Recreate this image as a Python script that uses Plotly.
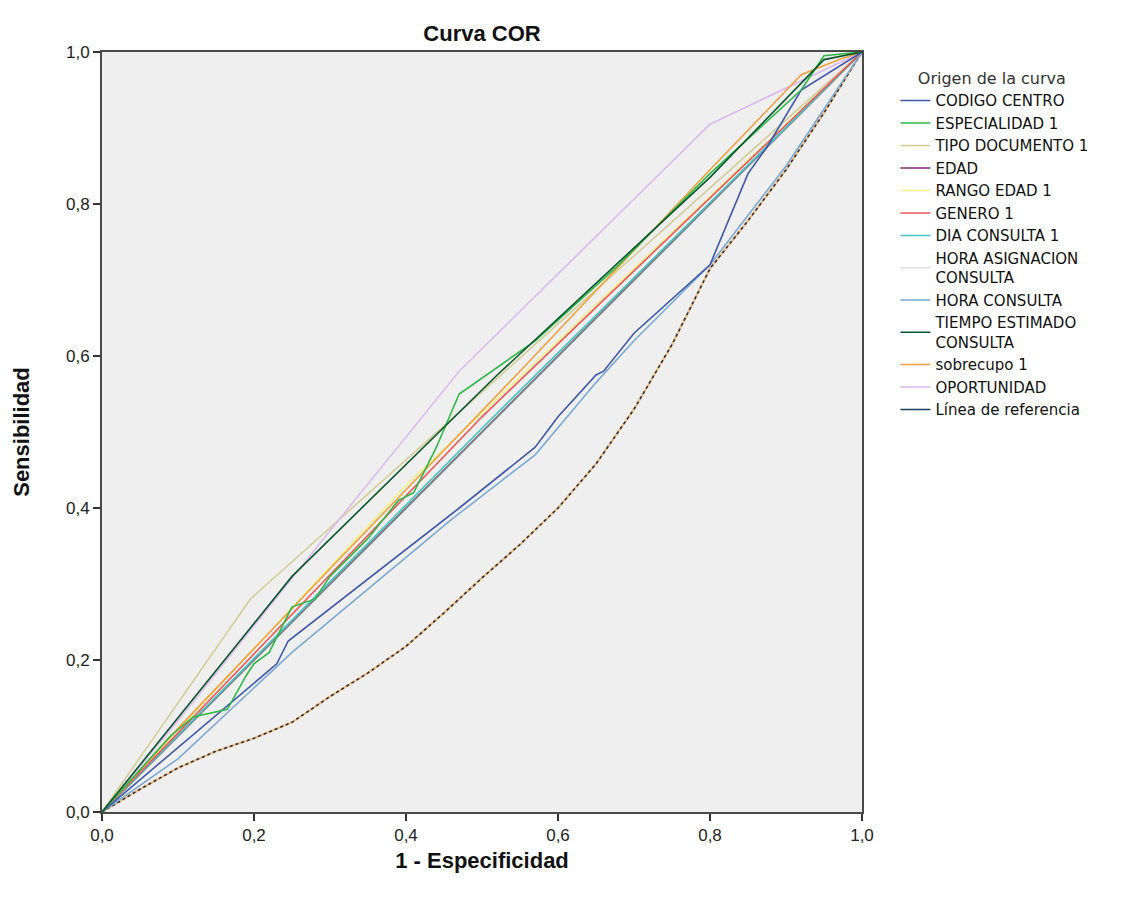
import plotly.graph_objects as go

# ---------------- data ----------------
codigo_x = [0, 0.10, 0.23, 0.245, 0.47, 0.57, 0.60, 0.65, 0.66, 0.70, 0.80, 0.85, 0.875, 0.92, 1.0]
codigo_y = [0, 0.085, 0.195, 0.225, 0.40, 0.48, 0.52, 0.575, 0.58, 0.63, 0.72, 0.84, 0.875, 0.95, 1.0]

espec_x = [0, 0.09, 0.12, 0.165, 0.19, 0.20, 0.22, 0.25, 0.28, 0.30, 0.35, 0.39, 0.41, 0.44, 0.47, 0.52, 0.57, 0.68, 0.80, 0.92, 0.95, 1.0]
espec_y = [0, 0.10, 0.125, 0.135, 0.18, 0.195, 0.21, 0.27, 0.28, 0.31, 0.36, 0.41, 0.42, 0.48, 0.55, 0.585, 0.62, 0.72, 0.84, 0.95, 0.995, 1.0]

tipo_x = [0, 0.195, 1.0]
tipo_y = [0, 0.28, 1.0]

edad_x = [0, 0.05, 0.10, 0.15, 0.20, 0.25, 0.30, 0.35, 0.40, 0.45, 0.50, 0.55, 0.60, 0.65, 0.70, 0.75, 0.80, 0.85, 0.90, 0.95, 1.0]
edad_y = [0, 0.03, 0.058, 0.08, 0.097, 0.118, 0.152, 0.183, 0.218, 0.262, 0.308, 0.352, 0.400, 0.458, 0.530, 0.615, 0.715, 0.778, 0.845, 0.92, 1.0]

rango_x = [0, 0.40, 1.0]
rango_y = [0, 0.43, 1.0]

genero_x = [0, 0.50, 1.0]
genero_y = [0, 0.52, 1.0]

dia_x = [0, 0.50, 1.0]
dia_y = [0, 0.505, 1.0]

hora_asig_x = edad_x
hora_asig_y = edad_y

hora_cons_x = [0, 0.10, 0.25, 0.46, 0.57, 0.65, 0.70, 0.80, 0.90, 1.0]
hora_cons_y = [0, 0.07, 0.21, 0.385, 0.47, 0.565, 0.62, 0.72, 0.85, 1.0]

tiempo_x = [0, 0.25, 0.52, 0.80, 0.95, 1.0]
tiempo_y = [0, 0.31, 0.575, 0.835, 0.99, 1.0]

sobre_x = [0, 0.10, 0.30, 0.55, 0.80, 0.92, 0.97, 1.0]
sobre_y = [0, 0.11, 0.32, 0.58, 0.845, 0.97, 0.99, 1.0]

oport_x = [0, 0.10, 0.20, 0.30, 0.47, 0.80, 1.0]
oport_y = [0, 0.12, 0.245, 0.37, 0.58, 0.905, 1.0]

ref_x = [0, 1.0]
ref_y = [0, 1.0]

names = ["CODIGO CENTRO", "ESPECIALIDAD 1", "TIPO DOCUMENTO 1", "EDAD", "RANGO EDAD 1",
         "GENERO 1", "DIA CONSULTA 1", "HORA ASIGNACION<br>CONSULTA", "HORA CONSULTA",
         "TIEMPO ESTIMADO<br>CONSULTA", "sobrecupo 1", "OPORTUNIDAD", "Línea de referencia"]
colors = ["#3E58AC", "#2EB848", "#D3CE97", "#7C287D", "#F5F08A", "#EF5558", "#48C2C5",
          "#DDDDDD", "#7AAAD5", "#0A562C", "#F0A040", "#DDBAF1", "#1A3F56"]
xs = [codigo_x, espec_x, tipo_x, edad_x, rango_x, genero_x, dia_x, hora_asig_x,
      hora_cons_x, tiempo_x, sobre_x, oport_x, ref_x]
ys = [codigo_y, espec_y, tipo_y, edad_y, rango_y, genero_y, dia_y, hora_asig_y,
      hora_cons_y, tiempo_y, sobre_y, oport_y, ref_y]

fig = go.Figure()

# drawing order (bottom to top)
draw_order = [12, 7, 3, 4, 2, 11, 6, 5, 10, 8, 0, 1, 9]
for i in draw_order:
    if i == 7:
        fig.add_trace(go.Scatter(x=xs[i], y=ys[i], mode="lines", showlegend=False,
                                 line=dict(color="#E8C08A", width=2.2), hoverinfo="skip"))
        continue
    if i == 3:
        fig.add_trace(go.Scatter(x=xs[i], y=ys[i], mode="lines", showlegend=False,
                                 line=dict(color="#3A2A30", width=1.6, dash="dot"), hoverinfo="skip"))
        continue
    if i == 12:
        fig.add_trace(go.Scatter(x=xs[i], y=ys[i], mode="lines", showlegend=False,
                                 line=dict(color="#7E8288", width=2.2), hoverinfo="skip"))
        continue
    fig.add_trace(go.Scatter(x=xs[i], y=ys[i], mode="lines", showlegend=False,
                             line=dict(color=colors[i], width=1.6), hoverinfo="skip"))

# legend entries in reference order
for i, n in enumerate(names):
    fig.add_trace(go.Scatter(x=[None], y=[None], mode="lines", name=n,
                             line=dict(color=colors[i], width=1.6), legendrank=i + 1))

axis_common = dict(
    range=[0, 1], tickvals=[0, 0.2, 0.4, 0.6, 0.8, 1.0],
    ticktext=["0,0", "0,2", "0,4", "0,6", "0,8", "1,0"],
    showgrid=False, zeroline=False, showline=True, mirror=True,
    linecolor="#4a4a4a", linewidth=2, ticks="outside", ticklen=7, tickwidth=2,
    tickcolor="#333333", tickfont=dict(family="Liberation Sans, Arial", size=17, color="#222222"),
)

fig.update_layout(
    width=1132, height=905,
    margin=dict(l=102, r=270, t=52, b=93),
    paper_bgcolor="white", plot_bgcolor="#EFEFEF",
    title=dict(text="<b>Curva COR</b>", x=(102 + 380) / 1132, xanchor="center",
               y=1 - 33 / 905, yanchor="middle",
               font=dict(family="Liberation Sans, Arial", size=22, color="#111111")),
    xaxis=dict(**axis_common,
               title=dict(text="<b>1 - Especificidad</b>", standoff=8,
                          font=dict(family="Liberation Sans, Arial", size=22, color="#111111"))),
    yaxis=dict(**axis_common,
               title=dict(text="<b>Sensibilidad</b>", standoff=30,
                          font=dict(family="Liberation Sans, Arial", size=22, color="#111111"))),
    legend=dict(x=1.044, xanchor="left", y=0.985, yanchor="top",
                title=dict(text="\u00a0\u00a0\u00a0\u00a0Origen de la curva",
                           font=dict(family="DejaVu Sans", size=16, color="#333333")),
                font=dict(family="DejaVu Sans", size=15, color="#111111"),
                itemwidth=30, tracegroupgap=0, bgcolor="rgba(0,0,0,0)"),
    showlegend=True,
)

fig.write_html("out.html")
